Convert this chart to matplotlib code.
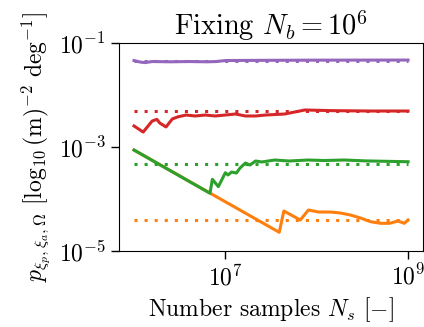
import matplotlib
matplotlib.use("Agg")
import matplotlib.pyplot as plt

plt.rcParams["font.family"] = "serif"
plt.rcParams["font.serif"] = ["cmr10"]
plt.rcParams["mathtext.fontset"] = "cm"
plt.rcParams["axes.formatter.use_mathtext"] = True
plt.rcParams["font.size"] = 17

# orange
n_orange = [1.0e6, 3.89e7, 4.37e7, 6.61e7, 8.13e7, 1.05e8, 1.41e8, 1.82e8,
            2.34e8, 3.02e8, 3.89e8, 5.01e8, 6.31e8, 7.76e8, 9.12e8, 1.0e9]
p_orange = [8.75e-4, 2.29e-5, 5.88e-5, 3.95e-5, 6.14e-5, 5.62e-5, 5.62e-5, 5.38e-5,
            4.92e-5, 4.31e-5, 3.66e-5, 3.41e-5, 3.41e-5, 3.77e-5, 3.41e-5, 3.95e-5]
ref_orange = 4.03e-5

# green
n_green = [1.0e6, 6.79e6, 7.21e6, 8.38e6, 1.0e7, 1.07e7, 1.17e7, 1.32e7,
           1.45e7, 1.66e7, 1.86e7, 2.14e7, 2.51e7, 2.95e7, 3.47e7, 5.0e7,
           8.0e7, 1.2e8, 2.0e8, 3.5e8, 6.0e8, 1.0e9]
p_green = [8.75e-4, 1.29e-4, 2.39e-4, 1.73e-4, 3.2e-4, 2.9e-4, 3.3e-4, 3.16e-4,
           3.95e-4, 4.92e-4, 4.5e-4, 5.38e-4, 5.15e-4, 5.38e-4, 5.62e-4, 5.38e-4,
           5.62e-4, 5.5e-4, 5.62e-4, 5.4e-4, 5.3e-4, 5.21e-4]
ref_green = 4.71e-4

# red
n_red = [1.0e6, 1.26e6, 1.58e6, 1.78e6, 1.91e6, 2.24e6, 2.63e6, 3.02e6,
         3.72e6, 4.68e6, 6.03e6, 7.76e6, 1.0e7, 1.29e7, 1.66e7, 2.14e7,
         2.75e7, 4.47e7, 7.41e7, 1.5e8, 4.0e8, 1.0e9]
p_red = [2.54e-3, 1.94e-3, 3.16e-3, 3.4e-3, 2.9e-3, 2.43e-3, 3.47e-3, 3.8e-3,
         4.12e-3, 3.95e-3, 4.12e-3, 3.95e-3, 4.12e-3, 4.31e-3, 3.95e-3, 3.95e-3,
         4.12e-3, 4.31e-3, 5.15e-3, 5.0e-3, 4.92e-3, 4.92e-3]
ref_red = 4.92e-3

# purple
n_purple = [1.0e6, 1.17e6, 1.32e6, 1.58e6, 2.51e6, 3.98e6, 6.31e6, 7.94e6,
            1.0e7, 3.16e7, 1.0e8, 1.0e9]
p_purple = [4.6e-2, 4.3e-2, 4.2e-2, 4.4e-2, 4.35e-2, 4.4e-2, 4.35e-2, 4.4e-2,
            4.6e-2, 4.65e-2, 4.68e-2, 4.7e-2]
ref_purple = 4.55e-2

n_range = [1.0e6, 1.0e9]

fig = plt.figure(figsize=(4.24, 3.27), dpi=100)
ax = fig.add_axes([0.2807, 0.2324, 0.717, 0.6361])

series = [(n_orange, p_orange, ref_orange, "#ff7f0e"),
          (n_green, p_green, ref_green, "#2ca02c"),
          (n_red, p_red, ref_red, "#d62728"),
          (n_purple, p_purple, ref_purple, "#9467bd")]
for n, p, ref, c in series:
    ax.plot(n, p, c=c, lw=2.2)
    ax.plot(n_range, [ref, ref], c=c, lw=2.2, ls=(0, (1, 2.3)))

ax.set_xscale("log")
ax.set_yscale("log")
ax.set_ylim(1e-5, 1e-1)
ax.set_xlim(10**5.836, 10**9.164)
ax.set_xticks([1e7, 1e9])
ax.set_yticks([1e-5, 1e-3, 1e-1])
ax.minorticks_off()
ax.tick_params(length=6, width=1)

ax.set_title(r"Fixing $N_b = 10^6$")
ax.set_xlabel(r"Number samples $N_s$ $[-]$")
ax.set_ylabel(r"$p_{\xi_p,\xi_a,\Omega}$ $[\log_{10}(\mathrm{m})^{-2}\ \mathrm{deg}^{-1}]$")

fig.savefig("out.png", dpi=100)
